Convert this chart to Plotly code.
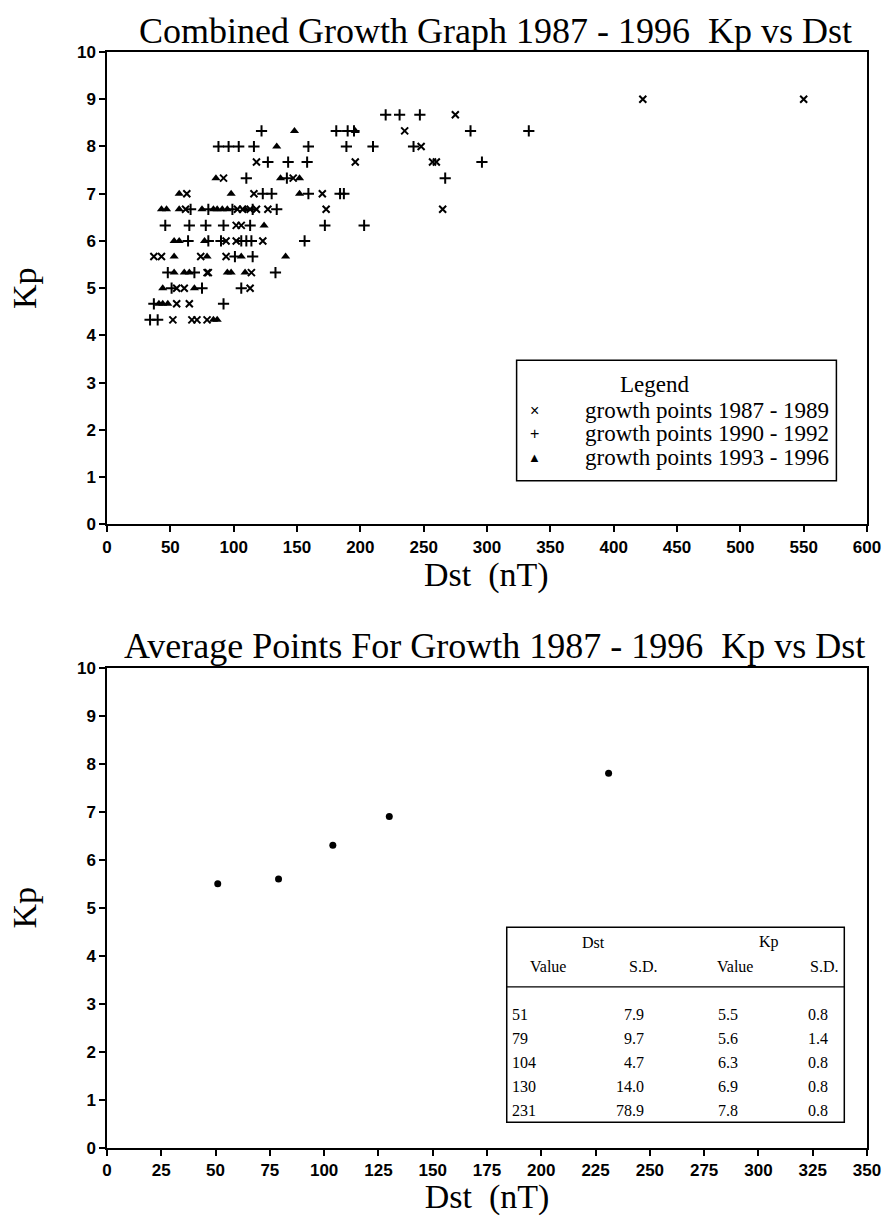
import plotly.graph_objects as go

# ---------------- data ----------------
# Top chart: growth points (Dst in nT, Kp)
g8789_dst = [423, 550, 275, 235, 248, 118, 196, 257, 260, 92, 147, 63, 116, 170,
             62, 103, 107, 113, 118, 127, 173, 265, 102, 106, 94, 102, 123,
             37, 43, 74, 94, 79, 80, 114, 55, 61, 113, 55, 65, 52, 67, 71, 79]
g8789_kp = [9, 9, 8.67, 8.33, 8, 7.67, 7.67, 7.67, 7.67, 7.33, 7.33, 7, 7, 7,
            6.67, 6.67, 6.67, 6.67, 6.67, 6.67, 6.67, 6.67, 6.33, 6.33, 6, 6, 6,
            5.67, 5.67, 5.67, 5.67, 5.33, 5.33, 5.33, 5, 5, 5, 4.67, 4.67, 4.33, 4.33, 4.33, 4.33]

g9092_dst = [220, 231, 247, 122, 181, 190, 195, 287, 333,
             88, 96, 104, 116, 159, 189, 210, 242, 127, 143, 158, 296,
             110, 142, 267, 123, 130, 159, 184, 187, 66, 80, 99, 115, 134,
             46, 65, 78, 92, 113, 172, 203, 64, 80, 90, 106, 110, 114, 156,
             101, 115, 48, 69, 133, 51, 75, 106, 37, 92, 34, 40]
g9092_kp = [8.67, 8.67, 8.67, 8.33, 8.33, 8.33, 8.33, 8.33, 8.33,
            8, 8, 8, 8, 8, 8, 8, 8, 7.67, 7.67, 7.67, 7.67,
            7.33, 7.33, 7.33, 7, 7, 7, 7, 7, 6.67, 6.67, 6.67, 6.67, 6.67,
            6.33, 6.33, 6.33, 6.33, 6.33, 6.33, 6.33, 6, 6, 6, 6, 6, 6, 6,
            5.67, 5.67, 5.33, 5.33, 5.33, 5, 5, 5, 4.67, 4.67, 4.33, 4.33]

g9396_dst = [148, 196, 134, 86, 137, 152, 57, 98, 152,
             43, 47, 57, 75, 84, 87, 91, 95, 109, 124, 53, 57, 77,
             53, 79, 106, 141, 53, 61, 65, 95, 98, 109, 44, 69, 41, 44, 48, 84, 87]
g9396_kp = [8.33, 8.33, 8, 7.33, 7.33, 7.33, 7, 7, 7,
            6.67, 6.67, 6.67, 6.67, 6.67, 6.67, 6.67, 6.67, 6.67, 6.33, 6, 6, 6,
            5.67, 5.67, 5.67, 5.67, 5.33, 5.33, 5.33, 5.33, 5.33, 5.33, 5, 5, 4.67, 4.67, 4.67, 4.33, 4.33]

series_names = ["growth points 1987 - 1989", "growth points 1990 - 1992", "growth points 1993 - 1996"]
legend_glyphs = ["\u00d7", "+", "\u25b2"]

# Bottom chart: average points + table
avg_dst = [51, 79, 104, 130, 231]
dst_sd = [7.9, 9.7, 4.7, 14.0, 78.9]
avg_kp = [5.5, 5.6, 6.3, 6.9, 7.8]
kp_sd = [0.8, 1.4, 0.8, 0.8, 0.8]

top_xticks = list(range(0, 601, 50))
bot_xticks = list(range(0, 351, 25))
yticks = list(range(0, 11))

# ---------------- layout helpers ----------------
W, H = 893, 1216
ML, MR, MT, MB = 107, 16, 52, 62
PW, PH = W - ML - MR, H - MT - MB


def px(x):
    return (x - ML) / PW


def py(y):
    return (H - MB - y) / PH


SERIF = "Liberation Serif"
SANS = "Liberation Sans"

fig = go.Figure()

fig.add_trace(go.Scatter(
    x=g8789_dst, y=g8789_kp, mode="markers", name=series_names[0],
    marker=dict(symbol="x-thin", size=7, color="black", line=dict(width=2, color="black")),
    xaxis="x", yaxis="y"))
fig.add_trace(go.Scatter(
    x=g9092_dst, y=g9092_kp, mode="markers", name=series_names[1],
    marker=dict(symbol="cross-thin", size=8, color="black", line=dict(width=2, color="black")),
    xaxis="x", yaxis="y"))
fig.add_trace(go.Scatter(
    x=g9396_dst, y=g9396_kp, mode="markers", name=series_names[2],
    marker=dict(symbol="triangle-up", size=8, color="black"),
    xaxis="x", yaxis="y"))
fig.add_trace(go.Scatter(
    x=avg_dst, y=avg_kp, mode="markers", name="average points",
    marker=dict(symbol="circle", size=7, color="black"),
    xaxis="x2", yaxis="y2"))

axis_common = dict(
    showline=True, linecolor="black", linewidth=1.5, mirror=True,
    ticks="outside", ticklen=6, tickwidth=1.5, tickcolor="black",
    showgrid=False, zeroline=False,
    tickfont=dict(family=SANS, size=17, color="black", weight="bold"),
)
title_font = dict(family=SERIF, size=34, color="black")

fig.update_layout(
    width=W, height=H,
    margin=dict(l=ML, r=MR, t=MT, b=MB),
    paper_bgcolor="white", plot_bgcolor="white",
    xaxis=dict(domain=[0, 1], anchor="y", range=[0, 600], tickvals=top_xticks,
               **axis_common),
    yaxis=dict(domain=[py(527), 1], anchor="x", range=[0, 10], tickvals=yticks,
               title=dict(text="Kp", font=title_font, standoff=30),
               **axis_common),
    xaxis2=dict(domain=[0, 1], anchor="y2", range=[0, 350], tickvals=bot_xticks,
                title=dict(text="Dst\u00a0\u00a0(nT)", font=title_font, standoff=0),
                **axis_common),
    yaxis2=dict(domain=[0, py(671)], anchor="x2", range=[0, 10], tickvals=yticks,
                title=dict(text="Kp", font=title_font, standoff=30),
                **axis_common),
    showlegend=False,
)

annotations = []
annotations.append(dict(
    text="Combined Growth Graph 1987 - 1996\u00a0\u00a0Kp vs Dst", x=px(501), y=py(31),
    xref="paper", yref="paper", showarrow=False, xanchor="center", yanchor="middle",
    font=dict(family=SERIF, size=36, color="black")))
annotations.append(dict(
    text="Average Points For Growth 1987 - 1996\u00a0\u00a0Kp vs Dst", x=px(500), y=py(649),
    xref="paper", yref="paper", showarrow=False, xanchor="center", yanchor="middle",
    font=dict(family=SERIF, size=36, color="black")))
# top chart x-axis title
annotations.append(dict(
    text="Dst\u00a0\u00a0(nT)", x=px(491), y=py(578),
    xref="paper", yref="paper", showarrow=False, xanchor="center", yanchor="middle",
    font=title_font))

# legend (drawn as a boxed key)
lfont = dict(family=SERIF, size=23, color="black")
annotations.append(dict(text="Legend", x=px(662), y=py(386), xref="paper", yref="paper",
                        showarrow=False, xanchor="center", yanchor="middle",
                        font=dict(family=SERIF, size=23, color="black")))
for i, (glyph, name) in enumerate(zip(legend_glyphs, series_names)):
    ry = 412 + 24 * i
    annotations.append(dict(text=glyph, x=px(540), y=py(ry), xref="paper", yref="paper",
                            showarrow=False, xanchor="center", yanchor="middle",
                            font=dict(family=SANS, size=13 if i == 2 else 16, color="black")))
    annotations.append(dict(text=name, x=px(589), y=py(ry), xref="paper", yref="paper",
                            showarrow=False, xanchor="left", yanchor="middle", font=lfont))

# table
tfont = dict(family=SERIF, size=16, color="black")
headers = [("Dst", 600, 947), ("Kp", 778, 947), ("Value", 554, 972), ("S.D.", 650, 972),
           ("Value", 743, 972), ("S.D.", 833, 972)]
for txt, hx, hy in headers:
    annotations.append(dict(text=txt, x=px(hx), y=py(hy), xref="paper", yref="paper",
                            showarrow=False, xanchor="center", yanchor="middle", font=tfont))
for i in range(len(avg_dst)):
    ry = 1020 + 24 * i
    cells = [(str(avg_dst[i]), 515, "left"), (f"{dst_sd[i]:.1f}", 653, "right"),
             (f"{avg_kp[i]:.1f}", 748, "right"), (f"{kp_sd[i]:.1f}", 840, "right")]
    for txt, cx, anc in cells:
        annotations.append(dict(text=txt, x=px(cx), y=py(ry), xref="paper", yref="paper",
                                showarrow=False, xanchor=anc, yanchor="middle", font=tfont))
fig.update_layout(annotations=annotations)

fig.update_layout(shapes=[
    dict(type="rect", xref="paper", yref="paper", x0=px(522), x1=px(846), y0=py(483), y1=py(362),
         line=dict(color="black", width=1.5), fillcolor="white", layer="below"),
    dict(type="rect", xref="paper", yref="paper", x0=px(512), x1=px(854), y0=py(1128), y1=py(932),
         line=dict(color="black", width=1.5), fillcolor="white", layer="below"),
    dict(type="line", xref="paper", yref="paper", x0=px(512), x1=px(854), y0=py(992), y1=py(992),
         line=dict(color="black", width=1.2)),
])

fig.write_html("out.html", config={"displayModeBar": False},
               post_script="document.body.style.margin='0px';document.body.style.overflow='hidden';")
